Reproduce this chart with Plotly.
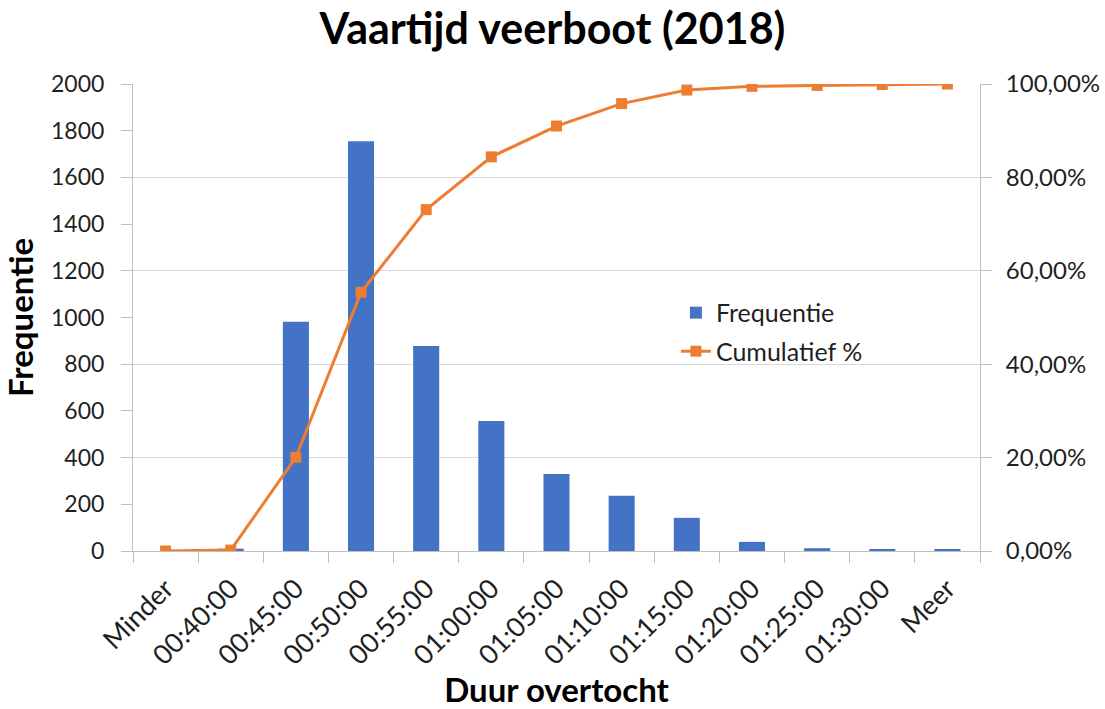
import plotly.graph_objects as go

# Crossing-time bins (Dutch labels) and counts per bin
bins = ["Minder", "00:40:00", "00:45:00", "00:50:00", "00:55:00", "01:00:00",
        "01:05:00", "01:10:00", "01:15:00", "01:20:00", "01:25:00", "01:30:00", "Meer"]
frequentie = [0, 10, 982, 1755, 878, 557, 330, 237, 142, 39, 12, 7, 6]
cumulatief = [0.0, 0.002, 0.2006, 0.554, 0.731, 0.844, 0.910, 0.958, 0.987,
              0.995, 0.997, 0.9988, 1.0]

FONT = "Lato"
TXT = "#1f1f1f"
AX = "#bfbfbf"

fig = go.Figure()
fig.add_trace(go.Bar(
    x=bins, y=frequentie, name="Frequentie",
    marker=dict(color="#4472C4", line=dict(width=0)),
    yaxis="y", legendgroup="f",
))
fig.add_trace(go.Scatter(
    x=bins, y=cumulatief, name="Cumulatief %",
    mode="lines+markers",
    line=dict(color="#ED7D31", width=3),
    marker=dict(symbol="square", size=11, color="#ED7D31"),
    yaxis="y2", legendgroup="c",
))

fig.update_layout(
    width=1105, height=709,
    separators=",.",
    paper_bgcolor="white", plot_bgcolor="white",
    margin=dict(l=133, r=125, t=84, b=158),
    bargap=0.6,
    font=dict(family=FONT, color=TXT, size=23),
    title=dict(text="<b>Vaartijd veerboot (2018)</b>", x=0.5, xanchor="center",
               y=1 - 29 / 709, yanchor="middle",
               font=dict(family=FONT, size=43, color="black")),
    xaxis=dict(
        type="category", range=[-0.5, len(bins) - 0.5],
        tickangle=-45, tickson="boundaries",
        ticks="outside", ticklen=11, tickcolor=AX,
        showline=True, linecolor=AX, linewidth=1,
        tickfont=dict(size=27, color=TXT), ticklabelstandoff=10,
        title=dict(text="<b>Duur overtocht</b>", font=dict(size=33, color="black"),
                   standoff=4),
        showgrid=False, automargin=False,
    ),
    yaxis=dict(
        range=[0, 2000], dtick=200, tick0=0,
        ticks="outside", ticklen=11, tickcolor=AX,
        showline=True, linecolor=AX, linewidth=1,
        showgrid=False, zeroline=False, automargin=False,
        tickfont=dict(size=23, color=TXT), ticklabelstandoff=12,
        title=dict(text="<b>Frequentie</b>", font=dict(size=33, color="black"),
                   standoff=8),
    ),
    yaxis2=dict(
        range=[0, 1], dtick=0.2, tick0=0, tickformat=".2%",
        overlaying="y", side="right",
        ticks="outside", ticklen=11, tickcolor=AX,
        showline=True, linecolor=AX, linewidth=1,
        showgrid=True, gridcolor="#d9d9d9", gridwidth=1, zeroline=False,
        automargin=False,
        tickfont=dict(size=24, color=TXT), ticklabelstandoff=9,
    ),
    legend=dict(
        x=0.641, y=0.559, xanchor="left", yanchor="top",
        bgcolor="rgba(0,0,0,0)", font=dict(size=25, color=TXT),
        traceorder="grouped", tracegroupgap=3,
    ),
)

fig.write_html("out.html")
